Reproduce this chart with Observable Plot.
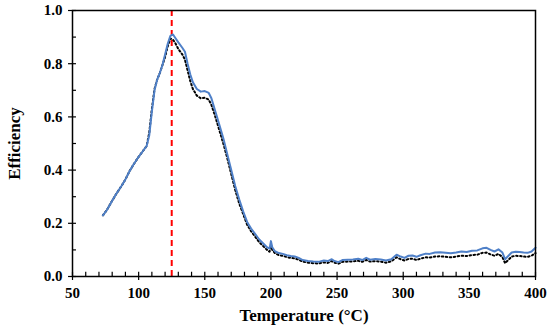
<!DOCTYPE html>
<html>
<head>
<meta charset="utf-8">
<script src="https://cdn.jsdelivr.net/npm/d3@7"></script>
<script src="https://cdn.jsdelivr.net/npm/@observablehq/plot@0.6"></script>
<style>
  html, body { margin: 0; padding: 0; background: #fff; }
</style>
</head>
<body>
<div id="chart"></div>
<script>
// Temperatures (°C) and efficiencies
const blueT = [73,76,80,83,87,90,93,96,100,103,106,108,110,112,114,116,118,120,122,124,126,128,130,133,135,137,139,141,144,147,150,153,155,158,161,164,167,170,173,176,179,182,185,188,191,194,197,199,200,201,203,206,209,212,215,218,221,224,228,232,236,240,243,246,248,251,254,258,262,266,269,272,275,279,283,287,291,295,298,301,304,307,310,313,317,320,324,328,332,336,340,344,348,352,356,360,363,366,369,372,375,377,379,382,385,388,391,394,397,400];
const blueE = [0.23,0.25,0.285,0.31,0.34,0.365,0.395,0.42,0.45,0.47,0.49,0.53,0.62,0.70,0.74,0.765,0.795,0.835,0.875,0.905,0.91,0.895,0.88,0.86,0.845,0.80,0.76,0.73,0.705,0.695,0.697,0.69,0.67,0.62,0.57,0.52,0.46,0.40,0.34,0.29,0.245,0.205,0.18,0.16,0.14,0.125,0.11,0.105,0.133,0.11,0.095,0.088,0.085,0.08,0.077,0.075,0.07,0.062,0.058,0.056,0.055,0.06,0.058,0.065,0.058,0.054,0.062,0.063,0.064,0.067,0.062,0.07,0.063,0.066,0.064,0.06,0.065,0.082,0.075,0.07,0.078,0.079,0.074,0.08,0.086,0.085,0.09,0.091,0.089,0.087,0.09,0.094,0.092,0.097,0.098,0.106,0.108,0.1,0.094,0.102,0.09,0.065,0.075,0.09,0.093,0.092,0.09,0.089,0.094,0.108];

const blackT = [73,76,80,83,87,90,93,96,100,103,106,108,110,112,114,116,118,120,122,124,126,128,130,133,135,137,139,141,144,147,150,153,155,158,161,164,167,170,173,176,179,182,185,188,191,194,197,199,200,201,203,206,209,212,215,218,221,224,228,232,236,240,243,246,248,251,254,258,262,266,269,272,275,279,283,287,291,295,298,301,304,307,310,313,317,320,324,328,332,336,340,344,348,352,356,360,363,366,369,372,375,377,379,382,385,388,391,394,397,400];
const blackE = [0.23,0.25,0.285,0.31,0.34,0.365,0.395,0.42,0.45,0.47,0.49,0.54,0.63,0.705,0.74,0.765,0.795,0.825,0.865,0.895,0.89,0.875,0.855,0.835,0.815,0.775,0.735,0.705,0.68,0.67,0.672,0.665,0.645,0.60,0.55,0.50,0.445,0.385,0.325,0.275,0.235,0.195,0.17,0.15,0.13,0.115,0.10,0.093,0.12,0.10,0.088,0.08,0.078,0.073,0.07,0.068,0.063,0.056,0.052,0.05,0.049,0.053,0.051,0.058,0.052,0.048,0.055,0.056,0.057,0.059,0.055,0.062,0.056,0.058,0.056,0.052,0.057,0.072,0.065,0.06,0.066,0.067,0.062,0.067,0.072,0.071,0.075,0.076,0.074,0.072,0.075,0.078,0.077,0.081,0.082,0.089,0.09,0.083,0.078,0.085,0.073,0.05,0.06,0.075,0.078,0.077,0.075,0.074,0.078,0.088];

const peakT = [125];
const xMajor = [50,100,150,200,250,300,350,400];
const xMinor = d3.range(50, 401, 10).filter(v => v % 50 !== 0);
const yMajor = [0,0.2,0.4,0.6,0.8,1.0];
const yMinor = [0.1,0.3,0.5,0.7,0.9];

const blue = blueT.map((t, i) => ({t, e: blueE[i]}));
const black = blackT.map((t, i) => ({t, e: blackE[i]}));

const serif = "'Liberation Serif', 'DejaVu Serif', serif";

const chart = Plot.plot({
  width: 550,
  height: 331,
  marginTop: 10,
  marginRight: 15,
  marginBottom: 55,
  marginLeft: 72,
  x: {domain: [50, 400]},
  y: {domain: [0, 1]},
  style: {background: "#fff", fontFamily: serif},
  marks: [
    Plot.ruleX(peakT, {x: d => d, y1: 0, y2: 1, stroke: "#ff0000", strokeWidth: 2, strokeDasharray: "6,4"}),
    Plot.line(black, {x: "t", y: "e", stroke: "#000", strokeWidth: 2, strokeDasharray: "1.5,2.5"}),
    Plot.line(blue, {x: "t", y: "e", stroke: "#4f80c8", strokeWidth: 2}),
    // tick marks
    Plot.ruleX(xMinor, {x: d => d, y1: 0, y2: 0.016, stroke: "#000", strokeWidth: 1.2}),
    Plot.ruleX(xMajor, {x: d => d, y1: -0.015, y2: 0.016, stroke: "#000", strokeWidth: 1.2}),
    Plot.ruleY(yMinor, {y: d => d, x1: 50, x2: 53, stroke: "#000", strokeWidth: 1.2}),
    Plot.ruleY(yMajor, {y: d => d, x1: 47, x2: 53, stroke: "#000", strokeWidth: 1.2}),
    Plot.frame({stroke: "#000", strokeWidth: 1.5}),
    Plot.axisX(xMajor, {tickSize: 0, tickPadding: 11, fontSize: 15, fontFamily: serif, fontWeight: "bold", tickFormat: d => String(d),
      label: null}),
    Plot.axisY(yMajor, {tickSize: 0, tickPadding: 10, fontSize: 15, fontFamily: serif, fontWeight: "bold", tickFormat: d3.format(".1f"),
      label: null}),
    Plot.text(["Temperature (°C)"], {frameAnchor: "bottom", dy: 44, fontSize: 17, fontFamily: serif, fontWeight: "bold", fill: "#000"}),
    Plot.text(["Efficiency"], {frameAnchor: "left", textAnchor: "middle", dx: -58, rotate: -90, fontSize: 17, fontFamily: serif, fontWeight: "bold", fill: "#000"})
  ]
});
document.getElementById("chart").appendChild(chart);
</script>
</body>
</html>
